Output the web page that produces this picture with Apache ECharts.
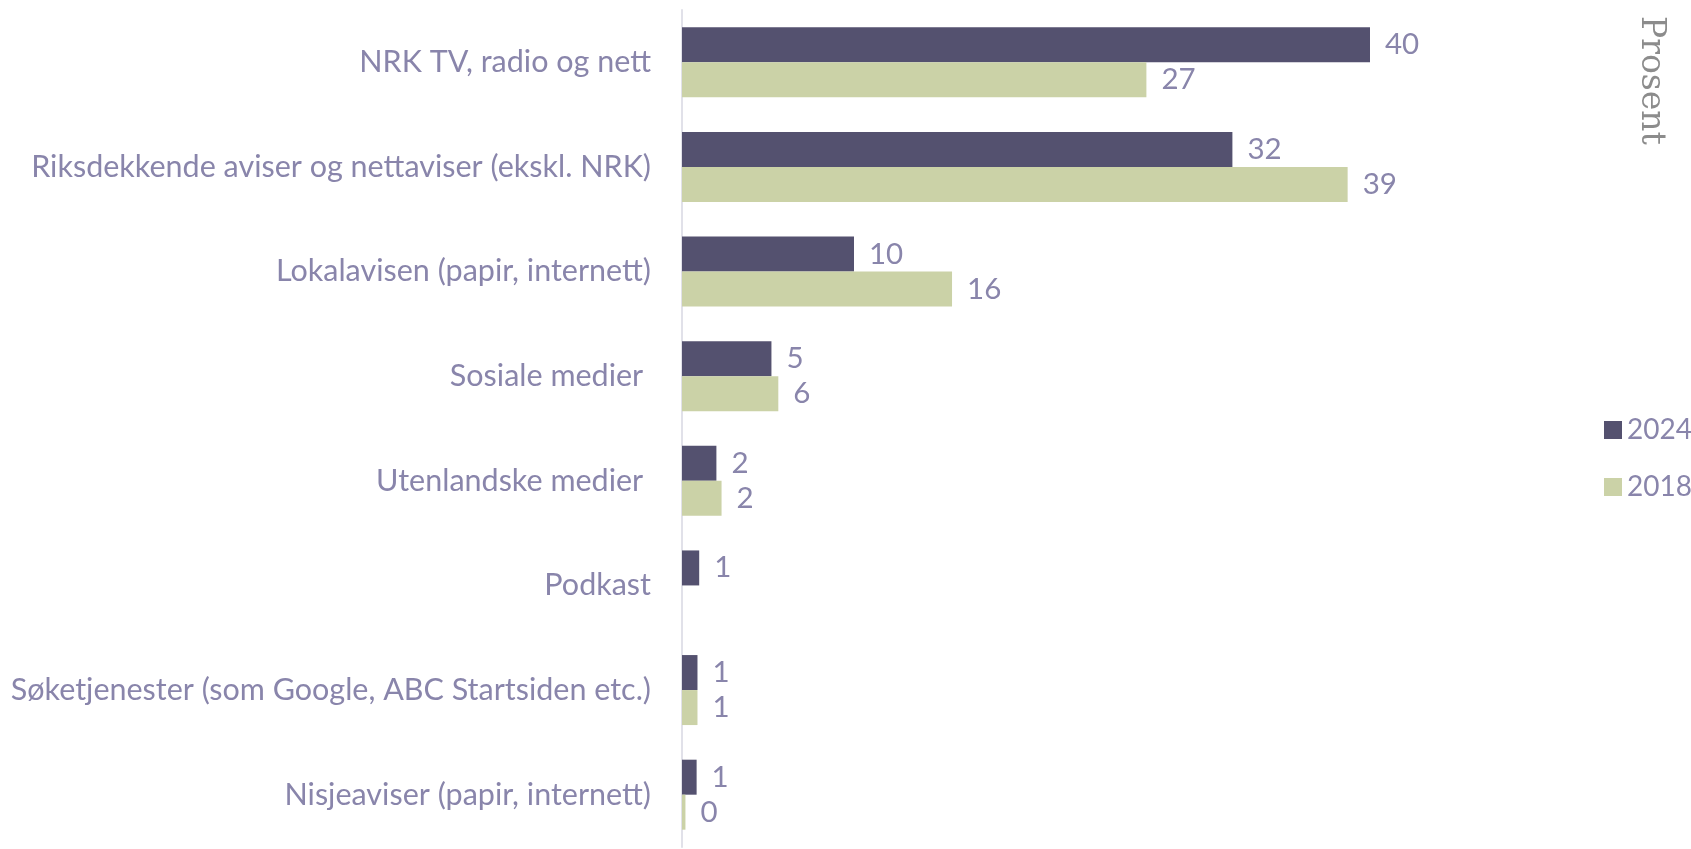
<!DOCTYPE html>
<html>
<head>
<meta charset="utf-8">
<script src="https://cdn.jsdelivr.net/npm/echarts@6/dist/echarts.min.js"></script>
<style>html,body{margin:0;padding:0;background:#fff}#c{width:1691px;height:849px}</style>
</head>
<body>
<div id="c"></div>
<script>
const categories = [
  "NRK TV, radio og nett",
  "Riksdekkende aviser og nettaviser (ekskl. NRK)",
  "Lokalavisen (papir, internett)",
  "Sosiale medier ",
  "Utenlandske medier ",
  "Podkast",
  "Søketjenester (som Google, ABC Startsiden etc.)",
  "Nisjeaviser (papir, internett)"
];
const seriesNames = ["2024", "2018"];
const values2024 = [40, 32, 10, 5.2, 2, 1, 0.9, 0.85];
const values2018 = [27, 38.7, 15.7, 5.6, 2.3, null, 0.9, 0.2];
const axisTitle = "Prosent";

const labelColor = "#8985ab";
const font = "Lato";
const chart = echarts.init(document.getElementById('c'));
const lbl = {
  show: true, position: 'right', distance: 15,
  color: labelColor, fontFamily: font, fontSize: 29.5,
  formatter: p => Math.round(p.value)
};
chart.setOption({
  animation: false,
  grid: { left: 682, right: 149, top: 10, bottom: 2, containLabel: false },
  xAxis: { type: 'value', min: 0, max: 50, show: false },
  yAxis: {
    type: 'category', data: categories, inverse: true,
    axisLine: { show: true, lineStyle: { color: '#e1e1e9', width: 2 } },
    axisTick: { show: false },
    axisLabel: { color: labelColor, fontFamily: font, fontSize: 30.5, margin: 31 }
  },
  legend: {
    orient: 'vertical', left: 1599, top: 411, itemWidth: 18, itemHeight: 18,
    itemGap: 29, icon: 'rect',
    textStyle: { color: labelColor, fontFamily: font, fontSize: 28, padding: [0,0,0,0] },
    data: seriesNames
  },
  graphic: [{
    type: 'text', x: 1651, y: 16, rotation: -Math.PI / 2,
    style: { text: axisTitle, fill: '#8c8c8c', font: '33px "DejaVu Serif"', textVerticalAlign: 'middle' }
  }],
  series: [
    { name: seriesNames[0], type: 'bar', data: values2024, barWidth: 35, barGap: '0%',
      itemStyle: { color: '#54516f' }, label: lbl },
    { name: seriesNames[1], type: 'bar', data: values2018, barWidth: 35, barGap: '0%',
      itemStyle: { color: '#cbd2a7' }, label: lbl }
  ]
});
</script>
</body>
</html>
